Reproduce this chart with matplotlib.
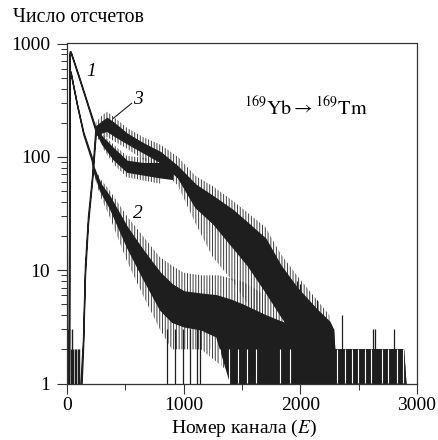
import matplotlib
matplotlib.use('Agg')
import matplotlib.pyplot as plt
from matplotlib.ticker import FixedLocator, NullFormatter, FixedFormatter
from matplotlib.lines import Line2D

# ---------------- data ----------------
# curve 1 (fast-decaying branch before merging with curve 3)
ch_c1 = [16, 22, 30, 100, 169, 240, 300, 400, 514, 650, 800, 900]
c1_hi = [1, 850, 855, 520, 312, 186, 150, 118, 92, 88, 88, 82]
c1_lo = [1, 800, 840, 505, 302, 176, 130, 95, 74, 70, 66, 64]
# curve 1 - extent of the noise spikes
ch_c1n = [300, 400, 514, 650, 800]
c1n_hi = [160, 128, 102, 98, 98]
c1n_lo = [122, 86, 66, 62, 58]

# curve 3 (rising, peaked, then merged band) - dense core
ch_c3 = [115, 125, 137, 154, 180, 214, 245, 300, 343, 400, 514, 650, 800, 950,
         1100, 1250, 1420, 1550, 1700, 1830, 1970, 2140, 2250, 2280, 2290, 2880, 2900]
c3_hi = [1, 1.5, 2.4, 11, 30, 66, 185, 205, 220, 200, 160, 132, 110, 82,
         57, 45, 34, 26, 19, 11, 7, 4.5, 3.5, 3, 2, 2, 1]
c3_lo = [1, 1, 2.0, 9, 26, 60, 155, 165, 170, 155, 132, 110, 90, 66,
         36, 26, 16, 11, 6.5, 4, 2.5, 1.5, 1, 1, 1, 1, 1]
# curve 3 - extent of the noise spikes
ch_c3n = [245, 300, 343, 400, 514, 650, 800, 950, 1100, 1250, 1420, 1550, 1700,
          1830, 1970, 2140, 2250]
c3n_hi = [200, 232, 250, 225, 180, 150, 128, 100, 68, 55, 41, 32, 24, 14, 9, 5.5, 4]
c3n_lo = [140, 145, 150, 138, 118, 95, 78, 56, 26, 13, 8, 5, 3, 2, 1.5, 1, 1]

# curve 2 - dense core
ch_c2 = [16, 22, 30, 83, 140, 211, 229, 286, 369, 514, 651, 797, 900, 1000, 1150,
         1280, 1400, 1500, 1700, 2000, 2280, 2290, 2880, 2900]
c2_hi = [1, 560, 570, 300, 165, 100, 80, 58, 44, 24, 15, 9.5, 7.5, 6.5, 6.2,
         6, 5.5, 5, 4, 3, 3, 2, 2, 1]
c2_lo = [1, 540, 555, 295, 158, 94, 74, 50, 35, 16, 8.5, 4.5, 3.5, 3.2, 3,
         2.6, 1, 1, 1, 1, 1, 1, 1, 1]
# curve 2 - extent of the noise spikes
ch_c2n = [229, 286, 369, 514, 651, 797, 900, 1000, 1150, 1300, 1500, 1700]
c2n_hi = [84, 64, 50, 30, 20, 13, 11, 9.5, 9, 9, 8, 6]
c2n_lo = [70, 45, 29, 12, 6, 3, 2, 2, 2, 1.5, 1, 1]

# low-count lines near channel 0 (curve 3 background)
low_ch = [10, 20, 30, 40, 55, 65, 75, 90, 100]
low_top = [3, 3, 2, 3, 2, 2, 2, 2, 2]

# isolated tall spikes in the tail
spike_ch = [1970, 2000, 2143, 2357, 2623, 2640, 2803]
spike_top = [8, 7.5, 5.5, 4, 3, 3, 3]

# isolated lines reaching 1 before the dense region
drop_ch = [857, 926, 994, 1054, 1114, 1140]

# white gaps (zero counts) inside the dense tail
gap_ch = [1183, 1226, 1311, 1391, 1469, 1540, 1620, 1826, 1911, 2311, 2383,
          2440, 2497, 2554, 2603, 2697, 2754, 2831, 2877]
gap_top = 2

x_ticks = [0, 1000, 2000, 3000]
x_minor = [500, 1500, 2500]
y_ticks = [1, 10, 100, 1000]
y_labels = ['1', '10', '100', '1000']

# ---------------- drawing ----------------
plt.rcParams['font.family'] = ['Liberation Serif', 'DejaVu Serif']
plt.rcParams['mathtext.fontset'] = 'stix'
plt.rcParams['hatch.linewidth'] = 0.7

W, H = 438, 440
fig = plt.figure(figsize=(W / 100, H / 100), dpi=100)
left, right, top, bottom = 67, 417, 43.5, 383.5
ax = fig.add_axes([left / W, 1 - bottom / H, (right - left) / W, (bottom - top) / H])
ax.set_yscale('log')
ax.set_xlim(0, 3000)
ax.set_ylim(1, 1000)

ink = '#1e1e1e'
fringe = '#3c3c3c'
for ch, lo, hi in [(ch_c3n, c3n_lo, c3n_hi), (ch_c2n, c2n_lo, c2n_hi),
                   (ch_c1n, c1n_lo, c1n_hi)]:
    ax.fill_between(ch, lo, hi, facecolor='none', edgecolor=fringe,
                    hatch='||||||', linewidth=0)
for ch, lo, hi in [(ch_c1, c1_lo, c1_hi), (ch_c3, c3_lo, c3_hi), (ch_c2, c2_lo, c2_hi)]:
    ax.fill_between(ch, lo, hi, facecolor=ink, edgecolor=ink, linewidth=1.0)

ax.vlines(low_ch, 1, low_top, color=ink, linewidth=1.0)
ax.vlines(spike_ch, 1, spike_top, color=ink, linewidth=0.9)
ax.vlines(drop_ch, 1, 3, color=ink, linewidth=0.9)
ax.vlines(gap_ch, 1.02, gap_top, color='white', linewidth=0.8)

for s in ax.spines.values():
    s.set_color('#333333')
    s.set_linewidth(0.9)

ax.xaxis.set_major_locator(FixedLocator(x_ticks))
ax.xaxis.set_minor_locator(FixedLocator(x_minor))
ax.xaxis.set_minor_formatter(NullFormatter())
ax.yaxis.set_major_locator(FixedLocator(y_ticks))
ax.yaxis.set_major_formatter(FixedFormatter(y_labels))
ax.yaxis.set_minor_locator(FixedLocator([m * d for d in (1, 10, 100) for m in range(2, 10)]))
ax.yaxis.set_minor_formatter(NullFormatter())
ax.tick_params(axis='both', which='major', direction='out', length=7, width=0.8,
               labelsize=14, color='#333333')
ax.tick_params(axis='both', which='minor', direction='out', length=4, width=0.7,
               color='#333333')
ax.tick_params(axis='x', which='major', pad=3)
ax.tick_params(axis='y', which='major', pad=5)

fig.text(13 / W, 1 - 22 / H, 'Число отсчетов', ha='left', va='baseline', fontsize=14.3)
fig.text(244 / W, 1 - 433 / H, 'Номер канала ($E$)', ha='center', va='baseline', fontsize=14)

fig.text(91 / W, 1 - 72 / H, '1', ha='center', va='center', fontsize=14, style='italic')
fig.text(138 / W, 1 - 214 / H, '2', ha='center', va='center', fontsize=14, style='italic')
fig.text(138 / W, 1 - 100 / H, '3', ha='center', va='center', fontsize=14, style='italic')
fig.add_artist(Line2D([131.7 / W, 113.3 / W], [1 - 103.3 / H, 1 - 118.3 / H],
                      color=ink, linewidth=0.8))

fig.text(306 / W, 1 - 115 / H, r'$^{169}\mathrm{Yb}\rightarrow{}^{169}\mathrm{Tm}$',
         ha='center', va='baseline', fontsize=14.5)

fig.savefig('out.png', dpi=100)
